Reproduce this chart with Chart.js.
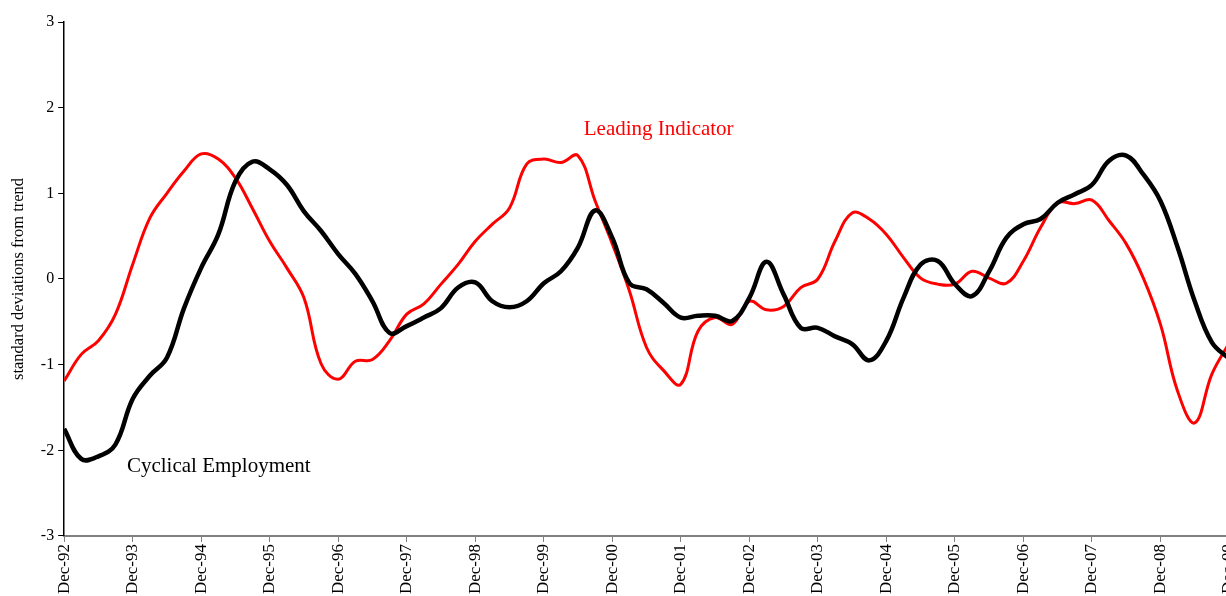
<!DOCTYPE html>
<html>
<head>
<meta charset="utf-8">
<script src="https://cdn.jsdelivr.net/npm/chart.js@4.4.1/dist/chart.umd.min.js"></script>
<style>
  html, body { margin: 0; padding: 0; background: #fff; overflow: hidden; }
  #wrap { width: 1226px; height: 596px; overflow: hidden; }
</style>
</head>
<body>
<div id="wrap"><canvas id="grafico" width="1262" height="596"></canvas></div>
<script>
// rótulos do eixo x (um por ano, em dezembro)
var tickLabels = ['Dec-92', 'Dec-93', 'Dec-94', 'Dec-95', 'Dec-96', 'Dec-97', 'Dec-98', 'Dec-99',
  'Dec-00', 'Dec-01', 'Dec-02', 'Dec-03', 'Dec-04', 'Dec-05', 'Dec-06', 'Dec-07', 'Dec-08', 'Dec-09'];

// valores trimestrais, a partir de Dec-92
var emprego = [
  -1.75, -2.10, -2.07, -1.93, -1.40, -1.13, -0.92, -0.34, 0.13, 0.52, 1.14, 1.37,
  1.28, 1.10, 0.79, 0.56, 0.29, 0.06, -0.26, -0.63, -0.55, -0.45, -0.34, -0.10,
  -0.04, -0.26, -0.33, -0.26, -0.05, 0.09, 0.37, 0.80, 0.48, -0.05, -0.12, -0.28,
  -0.45, -0.43, -0.43, -0.49, -0.22, 0.20, -0.18, -0.57, -0.57, -0.67, -0.76, -0.95,
  -0.72, -0.22, 0.17, 0.21, -0.06, -0.20, 0.09, 0.48, 0.64, 0.70, 0.89, 0.99,
  1.10, 1.38, 1.44, 1.22, 0.91, 0.37, -0.26, -0.74, -0.93
];

var indicador = [
  -1.19, -0.88, -0.72, -0.41, 0.17, 0.71, 1.00, 1.26, 1.46, 1.40, 1.18, 0.82,
  0.44, 0.13, -0.22, -0.99, -1.17, -0.96, -0.94, -0.72, -0.41, -0.29, -0.06, 0.17,
  0.44, 0.64, 0.83, 1.34, 1.40, 1.36, 1.44, 0.91, 0.41, -0.14, -0.80, -1.07,
  -1.23, -0.61, -0.45, -0.53, -0.26, -0.36, -0.32, -0.10, 0.00, 0.44, 0.77, 0.70,
  0.52, 0.25, 0.01, -0.06, -0.06, 0.09, 0.01, -0.05, 0.21, 0.60, 0.89, 0.88,
  0.92, 0.68, 0.41, 0.01, -0.53, -1.31, -1.68, -1.11, -0.75
];

var mesesPorPonto = 3;

function montarPontos(valores) {
  var pontos = [];
  for (var i = 0; i < valores.length; i++) {
    pontos.push({ x: i * mesesPorPonto, y: valores[i] });
  }
  return pontos;
}

// escreve os nomes das séries dentro do gráfico
var rotulosSeries = {
  id: 'rotulosSeries',
  afterDatasetsDraw: function (chart) {
    var ctx = chart.ctx;
    var sx = chart.scales.x;
    var sy = chart.scales.y;
    ctx.save();
    ctx.font = '21px "Liberation Serif", "Times New Roman", serif';
    ctx.textBaseline = 'middle';
    ctx.textAlign = 'left';
    ctx.fillStyle = '#ff0000';
    ctx.fillText('Leading Indicator', sx.getPixelForValue(91), sy.getPixelForValue(1.75));
    ctx.fillStyle = '#000000';
    ctx.fillText('Cyclical Employment', sx.getPixelForValue(11), sy.getPixelForValue(-2.19));
    ctx.restore();
  }
};

var fonteSerif = '"Liberation Serif", "Times New Roman", serif';

var meuGrafico = new Chart(document.getElementById('grafico').getContext('2d'), {
  type: 'line',
  data: {
    datasets: [
      {
        label: 'Cyclical Employment',
        data: montarPontos(emprego),
        borderColor: '#000000',
        borderWidth: 4.5,
        pointRadius: 0,
        tension: 0.4,
        fill: false
      },
      {
        label: 'Leading Indicator',
        data: montarPontos(indicador),
        borderColor: '#ff0000',
        borderWidth: 3,
        pointRadius: 0,
        tension: 0.4,
        fill: false
      }
    ]
  },
  options: {
    responsive: false,
    animation: false,
    layout: { padding: { left: 9, top: 22, right: 33, bottom: 0 } },
    plugins: {
      legend: { display: false },
      tooltip: { enabled: false }
    },
    scales: {
      x: {
        type: 'linear',
        min: 0,
        max: 204,
        border: { color: '#808080', width: 2 },
        grid: { drawOnChartArea: false, color: '#808080', tickLength: 6 },
        ticks: {
          stepSize: 12,
          autoSkip: false,
          maxRotation: 90,
          minRotation: 90,
          padding: 2,
          color: '#000000',
          font: { family: fonteSerif, size: 17 },
          callback: function (valor) { return tickLabels[Math.round(valor / 12)]; }
        }
      },
      y: {
        min: -3,
        max: 3,
        border: { color: '#000000', width: 1.5 },
        grid: { drawOnChartArea: false, color: '#000000', tickLength: 6 },
        ticks: {
          stepSize: 1,
          padding: 4,
          color: '#000000',
          font: { family: fonteSerif, size: 16 }
        },
        title: {
          display: true,
          text: 'standard deviations from trend',
          color: '#000000',
          padding: { top: 0, bottom: 8 },
          font: { family: fonteSerif, size: 16.5 }
        }
      }
    }
  },
  plugins: [rotulosSeries]
});
</script>
</body>
</html>
